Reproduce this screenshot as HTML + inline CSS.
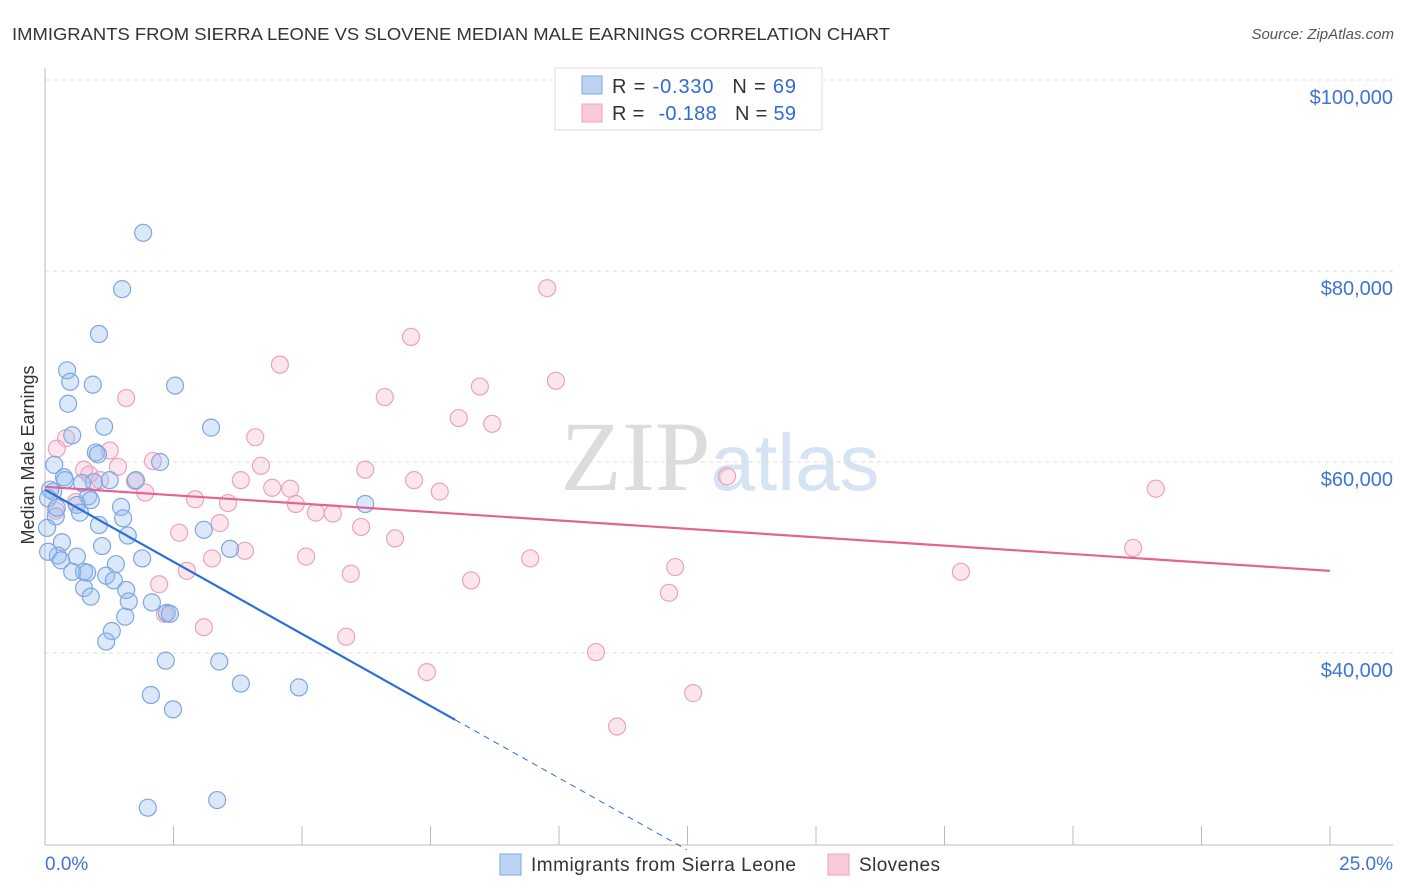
<!DOCTYPE html>
<html><head><meta charset="utf-8"><style>
body{margin:0;background:#fff;font-family:"Liberation Sans",sans-serif;}
#wrap{position:relative;width:1406px;height:892px;overflow:hidden;}
</style></head><body>
<div id="wrap">
<svg id="svg" width="1406" height="892" xmlns="http://www.w3.org/2000/svg">
<text x="12" y="40" font-size="17.5" fill="#333" textLength="878" lengthAdjust="spacingAndGlyphs">IMMIGRANTS FROM SIERRA LEONE VS SLOVENE MEDIAN MALE EARNINGS CORRELATION CHART</text>
<text x="1394" y="39" font-size="15" fill="#555" font-style="italic" text-anchor="end">Source: ZipAtlas.com</text>
<text x="720" y="490" font-size="100" fill="#e4e4e4" text-anchor="middle" font-family="Liberation Serif,serif"><tspan fill="#dcdcdc">ZIP</tspan><tspan fill="#d5e3f3" font-family="Liberation Sans,sans-serif" font-size="80">atlas</tspan></text>
<text transform="translate(34,455) rotate(-90)" font-size="18" fill="#333" text-anchor="middle">Median Male Earnings</text>
<g id="grid"></g><g id="pts"></g><g id="lines"></g>
<g>
<rect x="555" y="68" width="267" height="62" fill="#fff" stroke="#ddd"/>
<rect x="582" y="76" width="20" height="18" fill="#bcd4f4" stroke="#7ea7e2"/>
<rect x="582" y="104" width="20" height="18" fill="#f9cbd9" stroke="#eba3bb"/>
<text x="612" y="93" font-size="20" fill="#333" textLength="184">R = <tspan fill="#2f6bd6">-0.330</tspan><tspan dx="18">N = </tspan><tspan fill="#2f6bd6">69</tspan></text>
<text x="612" y="120" font-size="20" fill="#333" textLength="184">R = <tspan dx="8" fill="#2f6bd6">-0.188</tspan><tspan dx="18">N = </tspan><tspan fill="#2f6bd6">59</tspan></text>
</g>
<g>
<rect x="500" y="854" width="21" height="21" fill="#bcd4f4" stroke="#7ea7e2"/>
<text x="531" y="871" font-size="19" fill="#333" textLength="265">Immigrants from Sierra Leone</text>
<rect x="828" y="854" width="21" height="21" fill="#f9cbd9" stroke="#eba3bb"/>
<text x="859" y="871" font-size="19" fill="#333" textLength="81">Slovenes</text>
</g>
<text x="45" y="870" font-size="19" fill="#3d74d6">0.0%</text>
<text x="1393" y="870" font-size="19" fill="#3d74d6" text-anchor="end">25.0%</text>
</svg>
</div>
<script>
const yTicks=[100000,80000,60000,40000];
const yTickLabels=["$100,000","$80,000","$60,000","$40,000"];
const xTicks=[0,2.5,5,7.5,10,12.5,15,17.5,20,22.5,25];
const blueX=[1.91,1.50,1.05,0.43,0.49,0.93,2.53,0.45,3.23,1.15,0.53,0.99,1.03,2.24,0.18,0.37,0.39,0.95,1.26,1.77,0.16,0.84,0.89,0.62,6.23,1.48,0.68,1.52,0.21,1.05,0.04,1.61,3.09,0.33,3.60,1.11,0.25,0.62,1.89,1.38,0.53,0.76,0.82,1.19,1.34,0.76,1.58,0.89,1.63,2.08,2.37,2.43,1.56,1.30,1.19,2.35,3.39,3.81,4.94,2.06,2.49,2.00,3.35,0.10,0.06,0.23,0.31,0.06,0.72];
const blueY=[84.0,78.1,73.4,69.6,68.4,68.1,68.0,66.1,63.6,63.7,62.8,61.0,60.8,60.0,59.7,58.4,58.1,57.9,58.1,58.1,56.9,56.4,56.0,55.5,55.6,55.3,54.7,54.1,54.3,53.4,53.1,52.3,52.9,51.6,50.9,51.2,50.2,50.1,49.9,49.3,48.5,48.5,48.4,48.1,47.6,46.8,46.6,45.9,45.4,45.3,44.2,44.1,43.8,42.3,41.2,39.2,39.1,36.8,36.4,35.6,34.1,23.8,24.6,57.1,56.2,55.2,49.7,50.6,57.8];
const pinkX=[9.77,7.12,4.57,9.94,8.46,6.61,1.58,8.05,8.70,0.41,4.09,1.26,0.23,2.10,1.42,4.20,6.23,0.86,3.81,1.75,7.18,13.27,4.42,4.77,7.68,1.95,21.61,2.92,3.56,4.88,0.60,5.27,5.60,0.21,3.40,6.15,2.61,6.81,3.89,3.25,5.08,9.44,21.17,2.76,5.95,12.26,17.82,8.29,2.22,12.14,3.09,5.86,10.72,7.43,12.61,11.13,0.76,1.07,2.33];
const pinkY=[78.2,73.1,70.2,68.5,67.9,66.8,66.7,64.6,64.0,62.5,62.6,61.2,61.4,60.1,59.5,59.6,59.2,58.7,58.1,58.0,58.1,58.5,57.3,57.2,56.9,56.8,57.2,56.1,55.7,55.6,55.8,54.7,54.6,54.9,53.6,53.2,52.6,52.0,50.7,49.9,50.1,49.9,51.0,48.6,48.3,49.0,48.5,47.6,47.2,46.3,42.7,41.7,40.1,38.0,35.8,32.3,59.2,58.1,44.1];
const blueTrend=[57.1,33.0,19.4];
const blueTrendX=[0,7.98,12.49];
const pinkTrend=[57.4,48.6];
const pinkTrendX=[0,25];
const NS="http://www.w3.org/2000/svg";
const X=v=>45+v*1285/25;
const Y=v=>80+(100-v)*9.55;
function mk(tag,attrs,parent){const e=document.createElementNS(NS,tag);for(const k in attrs)e.setAttribute(k,attrs[k]);parent.appendChild(e);return e;}
const grid=document.getElementById('grid'),pts=document.getElementById('pts'),lines=document.getElementById('lines');
yTicks.forEach((t,i)=>{const y=Y(t/1000);
 const l=mk('line',{x1:45,x2:1393,y1:y,y2:y,stroke:'#ddd','stroke-dasharray':'4,4'},grid);
 
 
 const tx=mk('text',{x:1393,y:y+24,'font-size':20,fill:'#3d74d6','text-anchor':'end'},grid);tx.textContent=yTickLabels[i];
 
 
});
const ax=mk('line',{x1:45,x2:1393,y1:845,y2:845,stroke:'#bbb'},grid);


const ay=mk('line',{x1:45,x2:45,y1:68,y2:845,stroke:'#bbb'},grid);


xTicks.forEach(t=>{const tk=mk('line',{x1:X(t),x2:X(t),y1:826,y2:845,stroke:'#bbb'},grid);
 
 });
pinkX.forEach((x,i)=>{const c=mk('circle',{cx:X(x),cy:Y(pinkY[i]),r:8.5,fill:'rgba(245,170,195,0.3)',stroke:'#eba3bb','stroke-width':1.2},pts);
 
 });
blueX.forEach((x,i)=>{const c=mk('circle',{cx:X(x),cy:Y(blueY[i]),r:8.5,fill:'rgba(150,190,240,0.35)',stroke:'#7ea7e2','stroke-width':1.2},pts);
 
 });
const b1=mk('line',{x1:X(blueTrendX[0]),y1:Y(blueTrend[0]),x2:X(blueTrendX[1]),y2:Y(blueTrend[1]),stroke:'#2a6fd8','stroke-width':2.2},lines);


const b2=mk('line',{x1:X(blueTrendX[1]),y1:Y(blueTrend[1]),x2:X(blueTrendX[2]),y2:Y(blueTrend[2]),stroke:'#2a6fd8','stroke-width':1,'stroke-dasharray':'6,5'},lines);


const p1=mk('line',{x1:X(pinkTrendX[0]),y1:Y(pinkTrend[0]),x2:X(pinkTrendX[1]),y2:Y(pinkTrend[1]),stroke:'#e4648f','stroke-width':2.2},lines);


</script>
</body></html>
